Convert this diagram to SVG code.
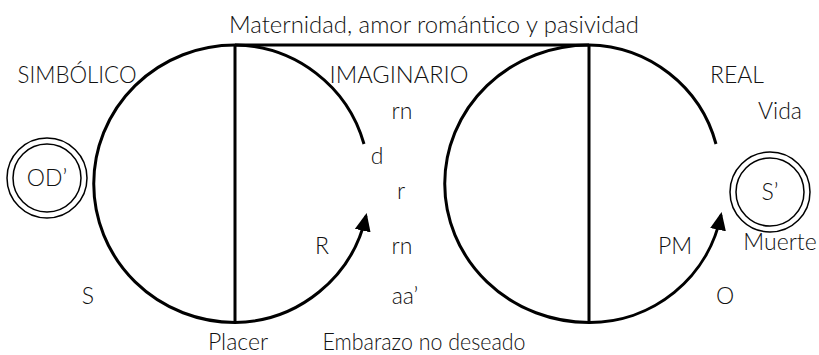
<svg xmlns="http://www.w3.org/2000/svg" width="819" height="355" viewBox="0 0 819 355">
<defs>
<marker id="arr" viewBox="0 0 18 16" refX="15" refY="8" markerWidth="18" markerHeight="16" markerUnits="userSpaceOnUse" orient="auto">
<path d="M0,0 L18,8 L0,16 z" fill="#000"/>
</marker>
<style>
.ln{fill:none;stroke:#000;stroke-width:3}
.dc{fill:none;stroke:#000;stroke-width:1.5}
text{font-family:Lato,"Liberation Sans",sans-serif;font-weight:300;font-size:23px;fill:#111;text-anchor:middle}
</style>
</defs>
<rect width="819" height="355" fill="#fff"/>
<g id="connectors">
<path class="ln" d="M235,45 H589"/>
<path class="ln" d="M235,45 A141,138.5 0 0 0 235,322.5"/>
<path class="ln" d="M235,45 V322.5"/>
<path class="ln" d="M235,45 A136,136 0 0 1 364,144"/>
<path class="ln" d="M235,322.5 A136,136 0 0 0 366,216" marker-end="url(#arr)"/>
<path class="ln" d="M589,45 A144,138.5 0 0 0 589,322.5"/>
<path class="ln" d="M589,45 V322.5"/>
<path class="ln" d="M589,45 A134,134 0 0 1 716,144"/>
<path class="ln" d="M589,322.5 A134,134 0 0 0 721,215" marker-end="url(#arr)"/>
</g>
<g id="node-od">
<circle class="dc" cx="47" cy="178" r="40"/>
<circle class="dc" cx="47" cy="178" r="34"/>
<text x="47" y="186">OD’</text>
</g>
<g id="node-s">
<circle class="dc" cx="770" cy="192" r="40"/>
<circle class="dc" cx="770" cy="192" r="34"/>
<text x="770" y="200">S’</text>
</g>
<g id="labels">
<text x="434" y="33" textLength="410" lengthAdjust="spacingAndGlyphs">Maternidad, amor romántico y pasividad</text>
<text x="77" y="83" textLength="119" lengthAdjust="spacingAndGlyphs">SIMBÓLICO</text>
<text x="399" y="83" textLength="139" lengthAdjust="spacingAndGlyphs">IMAGINARIO</text>
<text x="737" y="83">REAL</text>
<text x="402" y="119">rn</text>
<text x="780" y="119">Vida</text>
<text x="377" y="164">d</text>
<text x="401" y="199">r</text>
<text x="322" y="254">R</text>
<text x="402" y="254">rn</text>
<text x="675" y="254">PM</text>
<text x="780" y="250">Muerte</text>
<text x="88" y="304">S</text>
<text x="725" y="304">O</text>
<text x="405" y="304">aa’</text>
<text x="238" y="350">Placer</text>
<text x="424" y="350" textLength="203" lengthAdjust="spacingAndGlyphs">Embarazo no deseado</text>
</g>
</svg>
